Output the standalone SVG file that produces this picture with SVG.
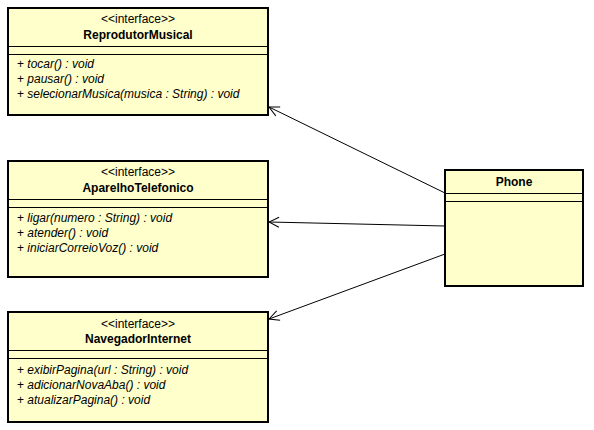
<svg xmlns="http://www.w3.org/2000/svg" width="594" height="430" viewBox="0 0 594 430">
<defs>
<style>
.box{fill:#FFFFCC;stroke:#000;stroke-width:2}
.sep{stroke:#000;stroke-width:1}
text{font-family:"Liberation Sans",Arial,sans-serif;font-size:12px;fill:#000}
.st{text-anchor:middle}
.nm{text-anchor:middle;font-weight:bold}
.op{font-style:italic}
.con{stroke:#000;stroke-width:1;fill:none;marker-end:url(#open)}
</style>
<marker id="open" viewBox="0 0 12 12" refX="11" refY="6" markerWidth="12" markerHeight="12" markerUnits="userSpaceOnUse" orient="auto">
<path d="M1,1 L11,6 L1,11" fill="none" stroke="#000" stroke-width="1"/>
</marker>
</defs>
<rect width="594" height="430" fill="#fff"/>
<g id="connectors">
<line class="con" x1="445" y1="193" x2="269" y2="107"/>
<line class="con" x1="445" y1="226" x2="269" y2="222"/>
<line class="con" x1="445" y1="254" x2="269" y2="319"/>
</g>
<g id="ReprodutorMusical">
<rect class="box" x="8" y="8" width="260" height="107"/>
<text class="st" x="138" y="23">&lt;&lt;interface&gt;&gt;</text>
<text class="nm" x="138" y="39">ReprodutorMusical</text>
<line class="sep" x1="8" y1="46.5" x2="268" y2="46.5"/>
<line class="sep" x1="8" y1="54.5" x2="268" y2="54.5"/>
<text x="17" y="68">+ <tspan class="op">tocar() : void</tspan></text>
<text x="17" y="83">+ <tspan class="op">pausar() : void</tspan></text>
<text x="17" y="98">+ <tspan class="op">selecionarMusica(musica : String) : void</tspan></text>
</g>
<g id="AparelhoTelefonico">
<rect class="box" x="8" y="161" width="260" height="116"/>
<text class="st" x="138" y="176">&lt;&lt;interface&gt;&gt;</text>
<text class="nm" x="138" y="192">AparelhoTelefonico</text>
<line class="sep" x1="8" y1="199.5" x2="268" y2="199.5"/>
<line class="sep" x1="8" y1="207.5" x2="268" y2="207.5"/>
<text x="17" y="222">+ <tspan class="op">ligar(numero : String) : void</tspan></text>
<text x="17" y="237">+ <tspan class="op">atender() : void</tspan></text>
<text x="17" y="252">+ <tspan class="op">iniciarCorreioVoz() : void</tspan></text>
</g>
<g id="NavegadorInternet">
<rect class="box" x="8" y="312" width="260" height="110"/>
<text class="st" x="138" y="328">&lt;&lt;interface&gt;&gt;</text>
<text class="nm" x="138" y="343">NavegadorInternet</text>
<line class="sep" x1="8" y1="350.5" x2="268" y2="350.5"/>
<line class="sep" x1="8" y1="358.5" x2="268" y2="358.5"/>
<text x="17" y="374">+ <tspan class="op">exibirPagina(url : String) : void</tspan></text>
<text x="17" y="389">+ <tspan class="op">adicionarNovaAba() : void</tspan></text>
<text x="17" y="404">+ <tspan class="op">atualizarPagina() : void</tspan></text>
</g>
<g id="Phone">
<rect class="box" x="445" y="170" width="138" height="116"/>
<text class="nm" x="514" y="186">Phone</text>
<line class="sep" x1="445" y1="193.5" x2="583" y2="193.5"/>
<line class="sep" x1="445" y1="201.5" x2="583" y2="201.5"/>
</g>
</svg>
